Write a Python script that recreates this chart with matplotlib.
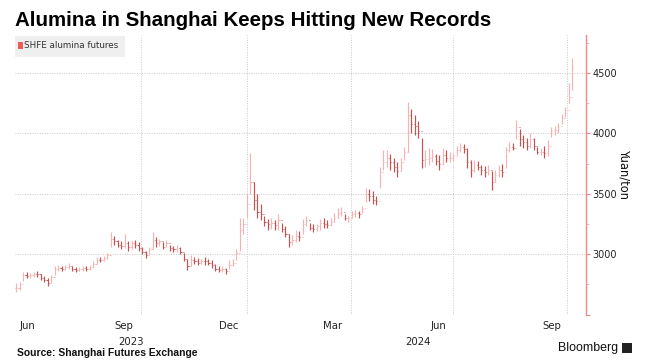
import numpy as np
import matplotlib
matplotlib.use("Agg")
import matplotlib.pyplot as plt
import matplotlib.transforms as mtransforms
from matplotlib.patches import Rectangle

plt.rcParams['font.family'] = ['DejaVu Sans']

# SHFE alumina futures, one bar per ~2 trading days (yuan/ton)
high = [2760, 2770, 2850, 2850, 2845, 2850, 2860, 2840, 2820, 2800,
        2830, 2900, 2910, 2900, 2915, 2930, 2900, 2895, 2895, 2900,
        2900, 2910, 2940, 2975, 2975, 2985, 3010, 3180, 3150, 3120,
        3110, 3170, 3110, 3110, 3120, 3100, 3060, 3030, 3060, 3180,
        3140, 3130, 3100, 3120, 3080, 3070, 3080, 3060, 3010, 2960,
        2990, 2980, 2970, 2960, 2975, 2960, 2950, 2920, 2900, 2900,
        2890, 2950, 2960, 3040, 3300, 3300, 3500, 3840, 3600, 3500,
        3420, 3320, 3290, 3300, 3280, 3330, 3260, 3230, 3170, 3160,
        3200, 3190, 3290, 3320, 3260, 3250, 3250, 3290, 3300, 3280,
        3300, 3340, 3380, 3390, 3330, 3320, 3360, 3370, 3360, 3400,
        3550, 3540, 3520, 3480, 3720, 3860, 3860, 3830, 3800, 3760,
        3800, 3890, 4260, 4200, 4150, 4100, 3960, 3860, 3880, 3870,
        3830, 3820, 3880, 3860, 3850, 3840, 3900, 3920, 3910, 3880,
        3780, 3780, 3770, 3740, 3730, 3740, 3690, 3700, 3740, 3750,
        3890, 3930, 3920, 4110, 4040, 3990, 3960, 4000, 3960, 3890,
        3880, 3900, 3945, 4050, 4060, 4090, 4160, 4220, 4415, 4625]
low = [2685, 2700, 2780, 2800, 2805, 2810, 2815, 2790, 2770, 2735,
       2760, 2830, 2860, 2860, 2870, 2880, 2860, 2855, 2860, 2865,
       2860, 2870, 2890, 2920, 2935, 2940, 2960, 3060, 3080, 3060,
       3040, 3050, 3030, 3040, 3050, 3030, 3000, 2970, 3000, 3040,
       3060, 3070, 3040, 3060, 3030, 3020, 3020, 3000, 2940, 2870,
       2900, 2920, 2910, 2920, 2910, 2915, 2890, 2860, 2850, 2850,
       2840, 2880, 2900, 2950, 3030, 3170, 3300, 3500, 3365, 3300,
       3280, 3230, 3200, 3210, 3200, 3200, 3180, 3140, 3060, 3080,
       3100, 3110, 3170, 3230, 3200, 3180, 3190, 3200, 3220, 3220,
       3230, 3270, 3300, 3320, 3280, 3270, 3300, 3310, 3300, 3340,
       3430, 3440, 3420, 3410, 3550, 3700, 3720, 3700, 3680, 3640,
       3690, 3780, 3850, 4000, 3990, 3960, 3710, 3720, 3740, 3760,
       3740, 3700, 3740, 3760, 3760, 3770, 3820, 3850, 3840, 3710,
       3640, 3680, 3700, 3660, 3640, 3660, 3530, 3600, 3640, 3640,
       3710, 3850, 3860, 3950, 3900, 3880, 3860, 3880, 3860, 3830,
       3820, 3800, 3810, 3970, 3990, 4000, 4080, 4140, 4250, 4360]
close = [2720, 2750, 2830, 2820, 2830, 2840, 2835, 2805, 2790, 2760,
         2810, 2880, 2885, 2880, 2895, 2905, 2875, 2870, 2880, 2885,
         2875, 2895, 2920, 2955, 2950, 2970, 2990, 3130, 3110, 3080,
         3070, 3090, 3060, 3090, 3080, 3050, 3020, 2990, 3040, 3120,
         3090, 3110, 3060, 3090, 3050, 3040, 3050, 3020, 2960, 2900,
         2950, 2940, 2930, 2945, 2940, 2930, 2910, 2880, 2870, 2875,
         2860, 2910, 2930, 3010, 3200, 3250, 3420, 3600, 3450, 3350,
         3330, 3270, 3250, 3260, 3240, 3280, 3210, 3170, 3100, 3120,
         3150, 3140, 3250, 3280, 3220, 3210, 3230, 3260, 3250, 3240,
         3270, 3300, 3340, 3350, 3300, 3300, 3330, 3340, 3330, 3380,
         3500, 3480, 3450, 3440, 3680, 3760, 3800, 3760, 3720, 3690,
         3760, 3850, 4150, 4080, 4060, 4020, 3780, 3790, 3800, 3810,
         3770, 3750, 3820, 3800, 3800, 3810, 3860, 3890, 3870, 3760,
         3700, 3740, 3720, 3700, 3680, 3700, 3600, 3660, 3700, 3680,
         3860, 3890, 3880, 4050, 3950, 3930, 3900, 3950, 3900, 3850,
         3850, 3840, 3900, 4020, 4030, 4060, 4130, 4190, 4300, 4540]

month_labels = ["Jun", "Sep", "Dec", "Mar", "Jun", "Sep"]
month_pos = [3.1, 30.9, 60.9, 90.6, 120.6, 153.1]   # bar index under each label
grid_pos = [3.1, 35.7, 66.0, 95.7, 124.9, 157.4]    # quarter gridlines
year_labels = ["2023", "2024"]
year_pos = [32.9, 114.9]
y_ticks = [2500, 3000, 3500, 4000, 4500]

W, H = 650, 363
fig = plt.figure(figsize=(W / 100, H / 100), dpi=100)
ax = fig.add_axes([15 / W, 1 - 315 / H, 571 / W, 280 / H])

x = np.arange(len(close))
opn = np.r_[close[0], close[:-1]]
c = np.array(close)
cols = np.where(c >= opn, '#f5b3b3', '#c9504e')

ax.vlines(x, low, high, colors=cols, lw=0.85, zorder=3)
ax.hlines(opn, x - 0.3, x, colors=cols, lw=0.7, zorder=3)
ax.hlines(c, x, x + 0.3, colors=cols, lw=0.7, zorder=3)

ax.set_xlim(-0.3, 162.9)
ax.set_ylim(2497, 4815)

# axes styling
for s in ['left', 'top', 'bottom']:
    ax.spines[s].set_visible(False)
ax.spines['right'].set_color('#f08a8a')
ax.spines['right'].set_linewidth(1.0)

ax.yaxis.tick_right()
ax.set_yticks(y_ticks)
ax.set_yticklabels([''] + [str(v) for v in y_ticks[1:]])
ax.set_yticks([2750, 3250, 3750, 4250, 4750], minor=True)
ax.tick_params(axis='y', which='major', length=3, width=0.8, color='#f08a8a',
               labelsize=7, pad=1.5, labelcolor='#222222')
ax.tick_params(axis='y', which='minor', length=2, width=0.6, color='#f4b0b0')
ax.grid(axis='y', which='major', ls=(0, (1, 1.5)), color='#c8c8c8', lw=0.7)

ax.set_xticks(month_pos)
ax.set_xticklabels(month_labels)
ax.set_xticks(grid_pos, minor=True)
ax.tick_params(axis='x', which='both', length=0, labelsize=7.3, pad=4,
               labelcolor='#222222')
ax.grid(axis='x', which='minor', ls=(0, (1, 1.5)), color='#c8c8c8', lw=0.7)

trans = mtransforms.blended_transform_factory(ax.transData, ax.transAxes)
for lab, pos in zip(year_labels, year_pos):
    ax.text(pos, -0.096, lab, transform=trans, ha='center', va='center',
            fontsize=7.3, color='#222222')

ax.yaxis.set_label_position('right')
ax.set_ylabel('Yuan/ton', rotation=270, fontsize=8.3, labelpad=10, color='#111111')

# legend box
fig.patches.append(Rectangle((15 / W, 1 - 57 / H), 110 / W, 21 / H,
                             transform=fig.transFigure, facecolor='#efefef',
                             edgecolor='none', zorder=0))
fig.patches.append(Rectangle((18 / W, 1 - 49 / H), 5 / W, 7 / H,
                             transform=fig.transFigure, facecolor='#ef5b57',
                             edgecolor='none', zorder=1))
fig.text(24 / W, 1 - 45.5 / H, 'SHFE alumina futures', fontsize=6.3,
         va='center', color='#333333')

renderer = fig.canvas.get_renderer()


def fit_width(t, target):
    w = t.get_window_extent(renderer).width
    t.set_fontsize(t.get_fontsize() * target / w)


title = fig.text(15 / W, 1 - 20 / H, 'Alumina in Shanghai Keeps Hitting New Records',
                 fontsize=14, fontweight='bold', family='Liberation Sans',
                 va='center', color='black')
fit_width(title, 477)

src = fig.text(17 / W, 1 - 353.5 / H, 'Source: Shanghai Futures Exchange',
               fontsize=7, fontweight='bold', family='Liberation Sans',
               va='center', color='#111111')
fit_width(src, 181)

bb = fig.text(618 / W, 1 - 348 / H, 'Bloomberg', fontsize=9,
              family='Liberation Sans', va='center', ha='right', color='#111111')
fit_width(bb, 60)
fig.patches.append(Rectangle((622 / W, 1 - 353 / H), 10 / W, 10 / H,
                             transform=fig.transFigure, facecolor='#222222',
                             edgecolor='none'))

fig.savefig('out.png', dpi=100)
